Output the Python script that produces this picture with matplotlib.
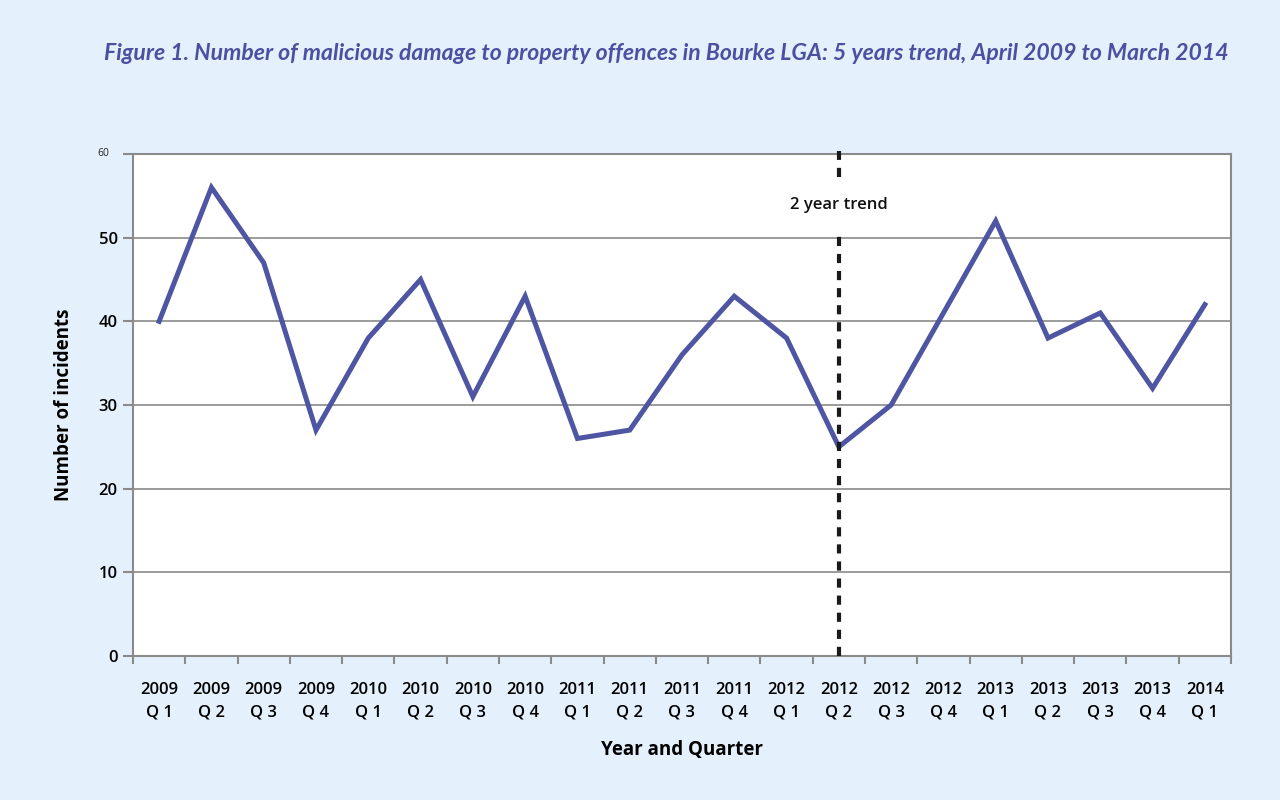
import matplotlib
matplotlib.use('Agg')
import matplotlib.pyplot as plt
import matplotlib.transforms as mtransforms
import numpy as np

# quarterly data, April 2009 to March 2014
years = ['2009', '2009', '2009', '2009', '2010', '2010', '2010', '2010',
         '2011', '2011', '2011', '2011', '2012', '2012', '2012', '2012',
         '2013', '2013', '2013', '2013', '2014']
quarters = ['Q 1', 'Q 2', 'Q 3', 'Q 4', 'Q 1', 'Q 2', 'Q 3', 'Q 4',
            'Q 1', 'Q 2', 'Q 3', 'Q 4', 'Q 1', 'Q 2', 'Q 3', 'Q 4',
            'Q 1', 'Q 2', 'Q 3', 'Q 4', 'Q 1']
incidents = [40, 56, 47, 27, 38, 45, 31, 43, 26, 27, 36, 43,
             38, 25, 30, 41, 52, 38, 41, 32, 42]
trend_start = 13  # 2012 Q2
y_ticks = [0, 10, 20, 30, 40, 50, 60]

bg = '#e4f1fd'
line_col = '#4e55a3'
title_col = '#4b50a0'
grid_col = '#8a8a8a'

fig = plt.figure(figsize=(12.8, 8), dpi=100)
fig.patch.set_facecolor(bg)
ax = fig.add_axes([133 / 1280, 144 / 800, 1098 / 1280, 502 / 800])
ax.set_facecolor('white')

x = np.arange(len(incidents))
labels = ['{}\n{}'.format(y, q) for y, q in zip(years, quarters)]

ax.plot(x, incidents, color=line_col, linewidth=3.6, solid_joinstyle='miter', zorder=3)

# vertical dashed line marking the 2 year trend
ax.plot([trend_start, trend_start], [0, 50.7], color='#1a1a1a', linewidth=3,
        dashes=(2.2, 1.9), clip_on=False, zorder=4)
ax.plot([trend_start, trend_start], [57.3, 60.4], color='#1a1a1a', linewidth=3,
        dashes=(2.2, 1.9), clip_on=False, zorder=4)
ax.text(trend_start, 53.9, '2 year trend', ha='center', va='center',
        fontsize=12, fontweight='semibold', family='Open Sans', color='#111111')

ax.set_xlim(-0.5, len(incidents) - 0.5)
ax.set_ylim(0, 60)

ax.set_yticks(y_ticks)
ax.set_yticklabels([str(v) for v in y_ticks[:-1]] + [''])
for lab in ax.get_yticklabels():
    lab.set_fontsize(12)
    lab.set_fontweight('semibold')
    lab.set_family('Open Sans')
# the top label is drawn small and plain in the original
off = mtransforms.offset_copy(ax.get_yaxis_transform(), fig=fig, x=-24, y=1, units='dots')
ax.text(0, 60, '60', ha='right', va='center', fontsize=7.5, family='Open Sans',
        color='#222222', transform=off)
ax.yaxis.grid(True, color=grid_col, linewidth=1.2)
ax.set_axisbelow(True)

ax.set_xticks(x)
ax.set_xticklabels(labels, fontsize=12, fontweight='semibold', family='Open Sans',
                   linespacing=1.5)
ax.set_xticks(np.arange(-0.5, len(incidents), 1), minor=True)
ax.tick_params(axis='x', which='major', length=0, pad=19)
ax.tick_params(axis='x', which='minor', length=6, width=1.5, color=grid_col)
ax.tick_params(axis='y', length=7, width=1.5, color=grid_col, pad=4)

for side in ['left', 'right', 'top', 'bottom']:
    ax.spines[side].set_color(grid_col)
    ax.spines[side].set_linewidth(1.5)

ax.set_xlabel('Year and Quarter', fontsize=13.5, fontweight='bold', family='Open Sans',
              labelpad=14)
ax.set_ylabel('Number of incidents', fontsize=13.5, fontweight='bold', family='Open Sans',
              labelpad=18)

fig.text(666 / 1280, 1 - 54 / 800,
         'Figure 1. Number of malicious damage to property offences in Bourke LGA: '
         '5 years trend, April 2009 to March 2014',
         ha='center', va='center', fontsize=16.6, fontweight='bold', fontstyle='italic',
         family='Lato', color=title_col)

fig.savefig('out.png', dpi=100, facecolor=bg)
